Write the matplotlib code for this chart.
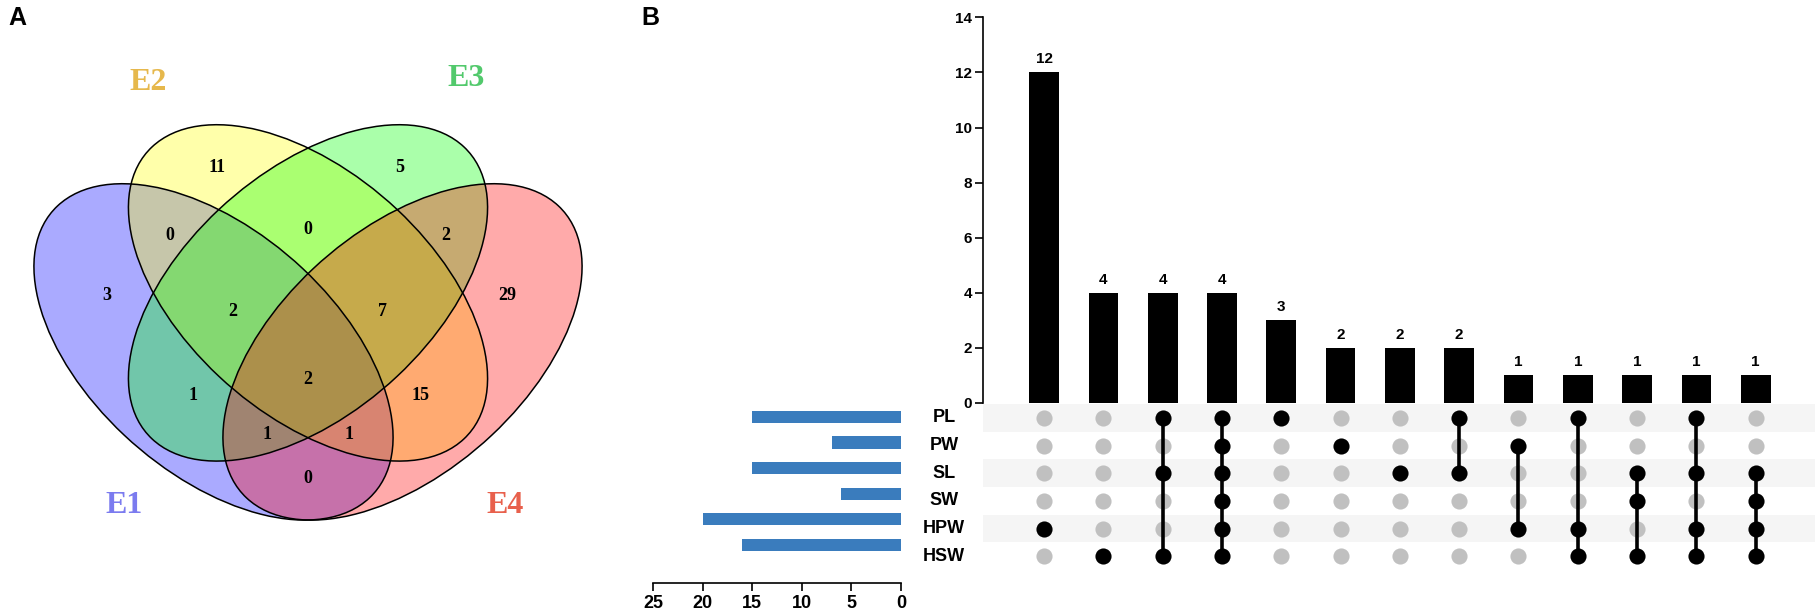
import matplotlib
matplotlib.use("Agg")
import matplotlib.pyplot as plt
from matplotlib.patches import Ellipse
from matplotlib import font_manager

# --- datos del panel A (Venn de 4 conjuntos) ---
venn_sets = ["E1", "E2", "E3", "E4"]
venn_fill = ["#0000ff", "#ffff00", "#00ff00", "#ff0000"]
venn_label_color = ["#7b7bef", "#e6b84c", "#52c96c", "#e8604c"]
# cuentas por region: solo E2, solo E3, E1E2, E2E3, E3E4, solo E1, solo E4,
# E1E2E3, E2E3E4, todos, E1E3, E2E4, E1E3E4, E1E2E4, E1E4
venn_counts = [11, 5, 0, 0, 2, 3, 29, 2, 7, 2, 1, 15, 1, 1, 0]

# --- datos del panel B (UpSet) ---
set_names = ["PL", "PW", "SL", "SW", "HPW", "HSW"]
set_sizes = [15, 7, 15, 6, 20, 16]
inter_counts = [12, 4, 4, 4, 3, 2, 2, 2, 1, 1, 1, 1, 1]
inter_members = [
    ["HPW"],
    ["HSW"],
    ["PL", "SL", "HSW"],
    ["PL", "PW", "SL", "SW", "HPW", "HSW"],
    ["PL"],
    ["PW"],
    ["SL"],
    ["PL", "SL"],
    ["PW", "HPW"],
    ["PL", "HPW", "HSW"],
    ["SL", "SW", "HSW"],
    ["PL", "SL", "HPW", "HSW"],
    ["SL", "SW", "HPW", "HSW"],
]

# posiciones (en coordenadas unitarias del diagrama) de los textos del Venn
venn_count_pos = [(0.356, 0.783), (0.646, 0.783), (0.281, 0.668), (0.5, 0.677),
                  (0.719, 0.668), (0.181, 0.565), (0.817, 0.565), (0.381, 0.538),
                  (0.619, 0.538), (0.5, 0.423), (0.317, 0.396), (0.678, 0.396),
                  (0.435, 0.330), (0.565, 0.330), (0.5, 0.256)]
venn_set_pos = [(0.208, 0.210), (0.246, 0.927), (0.751, 0.934), (0.813, 0.210)]
venn_ellipses = [((0.35, 0.47), -45), ((0.5, 0.57), -45), ((0.5, 0.57), 45), ((0.65, 0.47), 45)]

W_PX, H_PX = 1819, 611


def pick_font(options):
    names = {f.name for f in font_manager.fontManager.ttflist}
    return [o for o in options if o in names] + ["DejaVu Sans"]


NARROW = pick_font(["Liberation Sans Narrow", "Liberation Sans"])
SANS = pick_font(["Liberation Sans"])
SERIF = pick_font(["Liberation Serif", "DejaVu Serif"])


def box(left, top, right, bottom):
    # caja en pixeles -> fracciones de figura
    return [left / W_PX, 1 - bottom / H_PX, (right - left) / W_PX, (bottom - top) / H_PX]


def draw_venn(fig):
    ax = fig.add_axes(box(24.5, 68.7, 591.5, 540.7))
    ax.set_xlim(0.05, 0.95)
    ax.set_ylim(0.15, 0.95)
    ax.axis("off")
    for (c, ang), col in zip(venn_ellipses, venn_fill):
        ax.add_patch(Ellipse(c, 0.70, 0.40, angle=ang, facecolor=col, alpha=1 / 3,
                             edgecolor="none"))
    for (c, ang) in venn_ellipses:
        ax.add_patch(Ellipse(c, 0.70, 0.40, angle=ang, facecolor="none",
                             edgecolor="black", linewidth=1.1))
    for (x, y), n in zip(venn_count_pos, venn_counts):
        ax.text(x, y, str(n), ha="center", va="center", fontsize=13,
                fontweight="bold", family=SERIF)
    for (x, y), name, col in zip(venn_set_pos, venn_sets, venn_label_color):
        ax.text(x, y, name, ha="center", va="center", fontsize=23,
                fontweight="bold", family=SERIF, color=col)


def draw_upset(fig):
    n = len(inter_counts)
    xs = list(range(n))
    xlim = (-1.03, 13.0)

    # barras de intersecciones
    ax = fig.add_axes(box(983, 17.3, 1815, 403))
    ax.bar(xs, inter_counts, width=0.5, color="black")
    for x, v in zip(xs, inter_counts):
        ax.text(x, v + 0.22, str(v), ha="center", va="bottom", fontsize=11,
                fontweight="bold", family=NARROW)
    ax.set_xlim(*xlim)
    ax.set_ylim(0, 14)
    ax.set_yticks(range(0, 15, 2))
    for s in ["top", "right", "bottom"]:
        ax.spines[s].set_visible(False)
    ax.spines["left"].set_linewidth(1.2)
    ax.set_xticks([])
    ax.tick_params(axis="y", length=6, width=1.2, labelsize=11, pad=2)
    for lab in ax.get_yticklabels():
        lab.set_fontweight("bold")
        lab.set_family(NARROW)

    # matriz
    axm = fig.add_axes(box(983, 404, 1815, 570))
    axm.set_xlim(*xlim)
    axm.set_ylim(len(set_names) - 0.5, -0.5)
    axm.axis("off")
    for r in range(0, len(set_names), 2):
        axm.axhspan(r - 0.5, r + 0.5, color="#f5f5f5", zorder=0, lw=0)
    for x, members in zip(xs, inter_members):
        rows = [set_names.index(m) for m in members]
        others = [r for r in range(len(set_names)) if r not in rows]
        axm.scatter([x] * len(others), others, s=135, color="#c0c0c0", zorder=2, lw=0)
        if len(rows) > 1:
            axm.plot([x, x], [min(rows), max(rows)], color="black", lw=2.6, zorder=3)
        axm.scatter([x] * len(rows), rows, s=135, color="black", zorder=4, lw=0)
    for r, name in enumerate(set_names):
        axm.text(-1.686, r, name, ha="center", va="center", fontsize=13,
                 fontweight="bold", family=NARROW, clip_on=False)

    # tamanos de conjuntos
    axs = fig.add_axes(box(653, 404, 901, 583))
    axs.barh(range(len(set_names)), set_sizes, height=0.48, color="#3a7cbd")
    axs.set_xlim(25, 0)
    axs.set_ylim(len(set_names) - 0.5 + 0.985, -0.5)
    axs.set_xticks(range(0, 26, 5))
    axs.set_yticks([])
    for s in ["top", "right", "left"]:
        axs.spines[s].set_visible(False)
    axs.spines["bottom"].set_linewidth(1.2)
    axs.tick_params(axis="x", length=6, width=1.2, labelsize=13, pad=3)
    for lab in axs.get_xticklabels():
        lab.set_fontweight("bold")
        lab.set_family(NARROW)


def main():
    fig = plt.figure(figsize=(W_PX / 100, H_PX / 100), dpi=100)
    draw_venn(fig)
    draw_upset(fig)
    fig.text(17 / W_PX, 1 - 18 / H_PX, "A", ha="center", va="center", fontsize=18,
             fontweight="bold", family=SANS)
    fig.text(650 / W_PX, 1 - 18 / H_PX, "B", ha="center", va="center", fontsize=18,
             fontweight="bold", family=SANS)
    fig.savefig("out.png", dpi=100)


if __name__ == "__main__":
    main()
